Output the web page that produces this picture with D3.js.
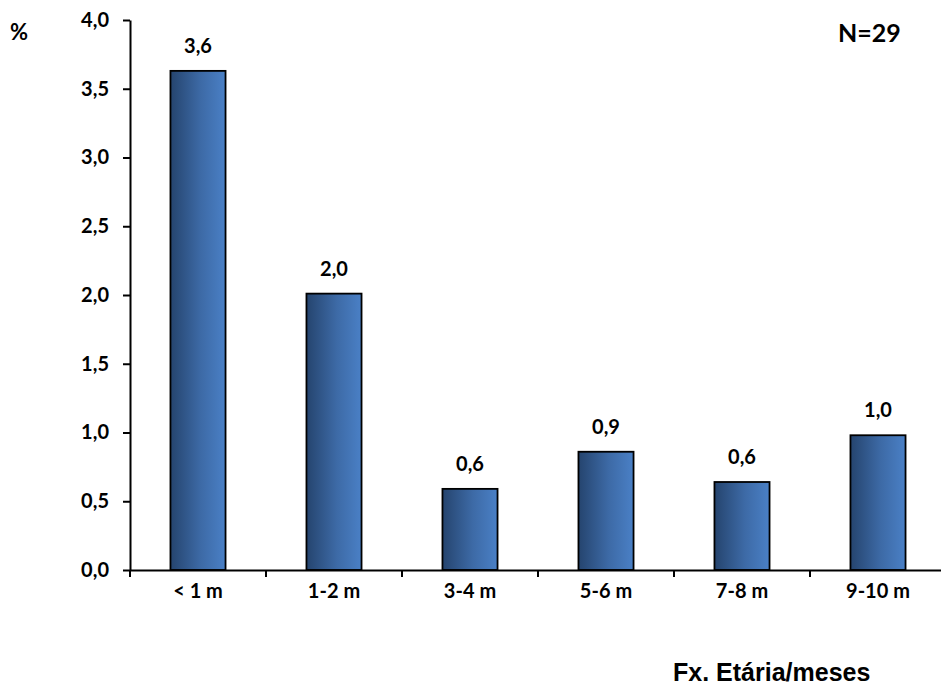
<!DOCTYPE html>
<html>
<head>
<meta charset="utf-8">
<script src="https://cdn.jsdelivr.net/npm/d3@7"></script>
<style>
  body { margin: 0; background: #fff; }
  svg { display: block; }
  .tick text { font-family: Lato, "Open Sans", sans-serif; font-weight: bold; fill: #000; }
</style>
</head>
<body>
<div id="chart"></div>
<script>
// chart data
var categories = ["< 1 m", "1-2 m", "3-4 m", "5-6 m", "7-8 m", "9-10 m"];
var values = [3.63, 2.01, 0.59, 0.86, 0.64, 0.98];
var valueLabels = ["3,6", "2,0", "0,6", "0,9", "0,6", "1,0"];
var yTicks = [0, 0.5, 1, 1.5, 2, 2.5, 3, 3.5, 4];

document.addEventListener('DOMContentLoaded', function() {
  drawChart();
});

function drawChart() {
  var width = 941, height = 688;
  var left = 130, right = 946, top = 20, bottom = 570;

  var svg = d3.select("#chart")
    .append("svg")
    .attr("width", width)
    .attr("height", height);

  var defs = svg.append("defs");
  var grad = defs.append("linearGradient")
    .attr("id", "barGrad")
    .attr("x1", "0%").attr("x2", "100%")
    .attr("y1", "0%").attr("y2", "0%");
  grad.append("stop").attr("offset", "0%").attr("stop-color", "#25446e");
  grad.append("stop").attr("offset", "55%").attr("stop-color", "#3d6aa6");
  grad.append("stop").attr("offset", "100%").attr("stop-color", "#4a80c6");

  var x = d3.scaleBand()
    .domain(categories)
    .range([left, right])
    .paddingInner(0.595)
    .paddingOuter(0.2975);

  var y = d3.scaleLinear()
    .domain([0, 4])
    .range([bottom, top]);

  // bars
  svg.selectAll(".bar")
    .data(values)
    .enter().append("rect")
    .attr("class", "bar")
    .attr("x", function(d, i) { return x(categories[i]); })
    .attr("width", x.bandwidth())
    .attr("y", function(d) { return y(d); })
    .attr("height", function(d) { return y(0) - y(d); })
    .attr("fill", "url(#barGrad)")
    .attr("stroke", "#000")
    .attr("stroke-width", 1.8);

  // value labels
  svg.selectAll(".vlabel")
    .data(values)
    .enter().append("text")
    .attr("class", "vlabel")
    .attr("x", function(d, i) { return x(categories[i]) + x.bandwidth() / 2; })
    .attr("y", function(d) { return y(d) - 18; })
    .attr("text-anchor", "middle")
    .style("font-family", "Lato, sans-serif")
    .style("font-weight", "bold")
    .style("font-size", "20px")
    .text(function(d, i) { return valueLabels[i]; });

  // Y axis
  var yAxis = svg.append("g")
    .attr("transform", "translate(" + left + ",0)")
    .call(d3.axisLeft(y)
      .tickValues(yTicks)
      .tickSize(7)
      .tickPadding(14)
      .tickSizeOuter(0)
      .tickFormat(function(d) { return d3.format(".1f")(d).replace(".", ","); }));
  yAxis.select(".domain").attr("stroke", "#000").attr("stroke-width", 2);
  yAxis.selectAll(".tick line").attr("stroke", "#000").attr("stroke-width", 2);
  yAxis.selectAll(".tick text").style("font-size", "20px");

  // X axis: ticks sit between the categories
  var xAxis = svg.append("g")
    .attr("transform", "translate(0," + bottom + ")")
    .call(d3.axisBottom(x).tickSize(0).tickPadding(14).tickSizeOuter(0));
  xAxis.select(".domain").attr("stroke", "#000").attr("stroke-width", 2);
  xAxis.selectAll(".tick text").style("font-size", "20px");

  var step = x.step();
  var bounds = d3.range(categories.length + 1).map(function(i) { return left + i * step; });
  xAxis.selectAll(".sep")
    .data(bounds)
    .enter().append("line")
    .attr("class", "sep")
    .attr("x1", function(d) { return d; })
    .attr("x2", function(d) { return d; })
    .attr("y1", 0)
    .attr("y2", 7)
    .attr("stroke", "#000")
    .attr("stroke-width", 2);

  // "%" unit label
  svg.append("text")
    .attr("x", 10)
    .attr("y", 40)
    .style("font-family", "Lato, sans-serif")
    .style("font-weight", "bold")
    .style("font-size", "22px")
    .text("%");

  // sample size
  svg.append("text")
    .attr("x", 838)
    .attr("y", 42)
    .style("font-family", "Lato, sans-serif")
    .style("font-weight", "bold")
    .style("font-size", "25px")
    .text("N=29");

  // x-axis title
  svg.append("text")
    .attr("x", 673)
    .attr("y", 681)
    .style("font-family", "'Liberation Sans', Arial, sans-serif")
    .style("font-weight", "bold")
    .style("font-size", "25px")
    .text("Fx. Etária/meses");
}
</script>
</body>
</html>
